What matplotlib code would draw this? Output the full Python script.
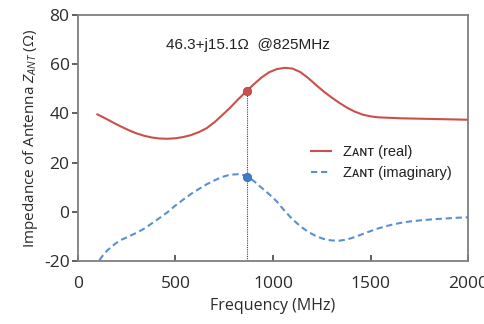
import matplotlib
matplotlib.use("Agg")
import matplotlib.pyplot as plt

# 데이터
freq_real = [100, 140, 180, 220, 260, 300, 340, 380, 420, 460, 500, 540, 580,
             620, 660, 700, 740, 780, 820, 860, 900, 940, 980, 1020, 1060,
             1100, 1140, 1180, 1220, 1260, 1300, 1340, 1380, 1420, 1460, 1500,
             1540, 1600, 1660, 1720, 1780, 1840, 1900, 1960, 2000]
z_real = [39.6, 38.0, 36.3, 34.7, 33.2, 31.9, 30.9, 30.2, 29.8, 29.7, 29.9,
          30.4, 31.2, 32.4, 34.0, 36.4, 39.3, 42.3, 45.6, 48.7, 51.7, 54.5,
          56.7, 58.0, 58.5, 58.2, 56.8, 54.4, 51.6, 48.9, 46.5, 44.3, 42.3,
          40.7, 39.5, 38.8, 38.4, 38.2, 38.0, 37.9, 37.8, 37.7, 37.6, 37.5, 37.4]

freq_imag = [110, 130, 150, 170, 190, 220, 260, 300, 340, 380, 420, 460, 500,
             540, 580, 620, 660, 700, 740, 780, 820, 850, 880, 910, 940, 980,
             1020, 1060, 1100, 1140, 1180, 1220, 1260, 1300, 1340, 1380, 1420,
             1460, 1500, 1540, 1580, 1620, 1660, 1700, 1760, 1820, 1880, 1940, 2000]
z_imag = [-19.6, -17.5, -15.7, -14.3, -13.0, -11.4, -10.0, -8.5, -6.8, -4.6,
          -2.4, -0.1, 2.6, 5.0, 7.3, 9.3, 11.2, 12.8, 14.2, 15.1, 15.3, 14.9,
          13.8, 12.0, 9.9, 7.2, 4.2, 0.4, -3.0, -5.8, -8.1, -9.8, -11.0, -11.6,
          -11.7, -11.2, -10.2, -9.0, -7.8, -6.7, -5.8, -5.0, -4.4, -3.9, -3.4,
          -3.0, -2.7, -2.4, -2.2]

mark_freq = 867
mark_real = 49.2
mark_imag = 14.3

annot_text = "46.3+j15.1Ω  @825MHz"
label_real = "Zᴀɴᴛ (real)"
label_imag = "Zᴀɴᴛ (imaginary)"

red = "#C9504B"
blue = "#5B8FD4"
gray = "#7F7F7F"
txt = "#2B2B2B"

plt.rcParams["axes.unicode_minus"] = False
plt.rcParams["mathtext.fontset"] = "custom"
plt.rcParams["mathtext.it"] = "Open Sans:italic"
plt.rcParams["mathtext.rm"] = "Open Sans"

fig = plt.figure(figsize=(4.84, 3.24), dpi=100)
ax = fig.add_axes([0.161, 0.194, 0.806, 0.760])

ax.plot(freq_real, z_real, color=red, lw=1.5, label=label_real)
ax.plot(freq_imag, z_imag, color=blue, lw=1.5, ls=(0, (3, 1.8)), label=label_imag)

# 표시점과 점선
ax.vlines(mark_freq, -20, mark_real, colors="#444444", lw=0.8, linestyles=(0, (1, 1)))
ax.plot([mark_freq], [mark_real], "o", color=red, ms=6, mec="#B03030", mew=0.5)
ax.plot([mark_freq], [mark_imag], "o", color="#3E7CC8", ms=6, mec="#2E66B0", mew=0.5)

ax.text(872, 67.8, annot_text, ha="center", va="center", fontsize=11,
        family=["Liberation Sans", "DejaVu Sans"], color="#222222")

ax.set_xlim(0, 2000)
ax.set_ylim(-20, 80)
ax.set_xticks([0, 500, 1000, 1500, 2000])
ax.set_yticks([-20, 0, 20, 40, 60, 80])

for sp in ax.spines.values():
    sp.set_color(gray)
    sp.set_linewidth(1.3)

ax.tick_params(axis="x", direction="in", length=4, width=1.2, color="#444444",
               pad=11, labelsize=12.5, labelcolor=txt)
ax.tick_params(axis="y", direction="out", length=4, width=1.2, color="#444444",
               pad=2, labelsize=12.5, labelcolor=txt)
for lab in ax.get_xticklabels() + ax.get_yticklabels():
    lab.set_family("Open Sans")

ax.set_xlabel("Frequency (MHz)", fontsize=11.5, family="Open Sans", color=txt, labelpad=4)
ax.set_ylabel(r"Impedance of Antenna $Z_{ANT}$ (Ω)", fontsize=11, family="Open Sans",
              color=txt, labelpad=3)

leg = ax.legend(loc="upper left", bbox_to_anchor=(0.597, 0.47), frameon=False,
                borderpad=0, borderaxespad=0, handlelength=1.4, handletextpad=0.8,
                labelspacing=0.45, prop={"family": ["Liberation Sans", "DejaVu Sans"], "size": 10.5})
for t in leg.get_texts():
    t.set_color("#222222")

fig.savefig("out.png", dpi=100)
